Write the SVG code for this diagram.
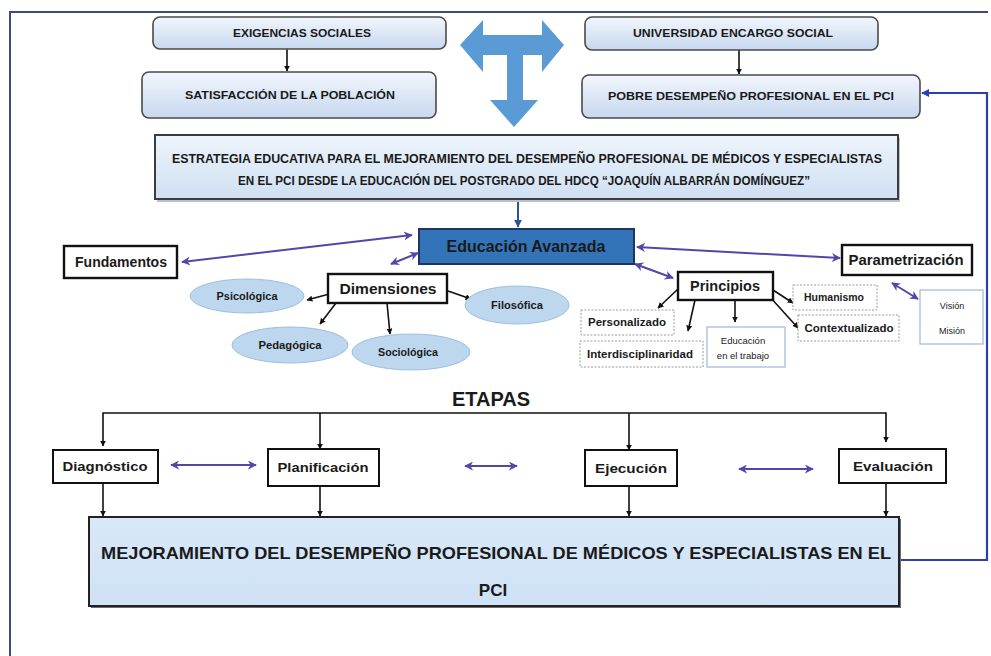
<svg xmlns="http://www.w3.org/2000/svg" width="991" height="656" viewBox="0 0 991 656">
<defs>
<style>
text{font-family:"Liberation Sans",Arial,sans-serif;fill:#1a1a1a}
.b{font-weight:bold}
.top{fill:url(#gTop);stroke:#4a4a4a;stroke-width:1.6}
.blk{fill:#fff;stroke:#111;stroke-width:2.4}
.stg{fill:#fff;stroke:#111;stroke-width:2}
.dot{fill:#fff;stroke:#9a9a9a;stroke-width:1;stroke-dasharray:2 1.5}
.lb{fill:#fff;stroke:#9cb8dc;stroke-width:1.2}
.ell{fill:#bdd7ee;stroke:#9dbfe2;stroke-width:1}
.k{stroke:#111;stroke-width:1.6;fill:none}
.p{stroke:#5047ad;stroke-width:2;fill:none}
</style>
<linearGradient id="gTop" x1="0" y1="0" x2="0" y2="1">
<stop offset="0" stop-color="#f2f6fc"/><stop offset="1" stop-color="#c7d8ef"/>
</linearGradient>
<linearGradient id="gEst" x1="0" y1="0" x2="0" y2="1">
<stop offset="0" stop-color="#eef4fb"/><stop offset="1" stop-color="#cfe0f2"/>
</linearGradient>
<linearGradient id="gBot" x1="0" y1="0" x2="0" y2="1">
<stop offset="0" stop-color="#d7e8f8"/><stop offset="1" stop-color="#cfe2f5"/>
</linearGradient>
<marker id="mk" viewBox="0 0 10 10" refX="9" refY="5" markerWidth="6" markerHeight="6" markerUnits="userSpaceOnUse" orient="auto-start-reverse">
<path d="M0,0 L10,5 L0,10 Z" fill="#111"/>
</marker>
<marker id="mp" viewBox="0 0 10 10" refX="9" refY="5" markerWidth="9" markerHeight="9" markerUnits="userSpaceOnUse" orient="auto-start-reverse">
<path d="M0,0 L10,5 L0,10 L3,5 Z" fill="#5047ad"/>
</marker>
<marker id="mb" viewBox="0 0 10 10" refX="9" refY="5" markerWidth="8" markerHeight="8" markerUnits="userSpaceOnUse" orient="auto-start-reverse">
<path d="M0,0 L10,5 L0,10 Z" fill="#2b3fae"/>
</marker>
<marker id="md" viewBox="0 0 10 10" refX="9" refY="5" markerWidth="8" markerHeight="8" markerUnits="userSpaceOnUse" orient="auto-start-reverse">
<path d="M0,0 L10,5 L0,10 Z" fill="#2f5597"/>
</marker>
</defs>
<rect width="991" height="656" fill="#ffffff"/>
<path d="M10,656 L10,12 L988,12" fill="none" stroke="#3e4a7a" stroke-width="2"/>

<g id="connectors">
<line x1="287" y1="49" x2="287" y2="71" class="k" marker-end="url(#mk)"/>
<line x1="739" y1="50" x2="739" y2="74" class="k" marker-end="url(#mk)"/>
<line x1="518" y1="200" x2="518" y2="227" stroke="#2f5597" stroke-width="2" marker-end="url(#md)"/>
<line x1="182" y1="262" x2="412" y2="235" class="p" marker-start="url(#mp)" marker-end="url(#mp)"/>
<line x1="391" y1="264" x2="418" y2="253" class="p" marker-start="url(#mp)" marker-end="url(#mp)"/>
<line x1="635" y1="264" x2="673" y2="278" class="p" marker-start="url(#mp)" marker-end="url(#mp)"/>
<line x1="637" y1="247" x2="840" y2="258" class="p" marker-start="url(#mp)" marker-end="url(#mp)"/>
<line x1="892" y1="283" x2="918" y2="299" class="p" marker-start="url(#mp)" marker-end="url(#mp)"/>
<line x1="333" y1="293" x2="307" y2="300" class="k" marker-end="url(#mk)"/>
<line x1="336" y1="303" x2="320" y2="324" class="k" marker-end="url(#mk)"/>
<line x1="387" y1="303" x2="390" y2="334" class="k" marker-end="url(#mk)"/>
<line x1="448" y1="291" x2="471" y2="299" class="k" marker-end="url(#mk)"/>
<line x1="678" y1="289" x2="658" y2="308" class="k" marker-end="url(#mk)"/>
<line x1="695" y1="300" x2="688" y2="331" class="k" marker-end="url(#mk)"/>
<line x1="735" y1="300" x2="735" y2="322" class="k" marker-end="url(#mk)"/>
<line x1="773" y1="290" x2="793" y2="303" class="k" marker-end="url(#mk)"/>
<line x1="770" y1="297" x2="798" y2="328" class="k" marker-end="url(#mk)"/>
<path d="M103,446 L103,413 L886,413 L886,442" class="k" marker-end="url(#mk)" marker-start="url(#mk)"/>
<line x1="320" y1="413" x2="320" y2="449" class="k" marker-end="url(#mk)"/>
<line x1="629" y1="413" x2="629" y2="450" class="k" marker-end="url(#mk)"/>
<line x1="171" y1="465" x2="256" y2="465" class="p" marker-start="url(#mp)" marker-end="url(#mp)"/>
<line x1="465" y1="466" x2="517" y2="466" class="p" marker-start="url(#mp)" marker-end="url(#mp)"/>
<line x1="739" y1="469" x2="813" y2="469" class="p" marker-start="url(#mp)" marker-end="url(#mp)"/>
<line x1="103" y1="483" x2="103" y2="516" class="k" marker-end="url(#mk)"/>
<line x1="320" y1="486" x2="320" y2="516" class="k" marker-end="url(#mk)"/>
<line x1="629" y1="486" x2="629" y2="516" class="k" marker-end="url(#mk)"/>
<line x1="886" y1="483" x2="886" y2="516" class="k" marker-end="url(#mk)"/>
<path d="M900,560 L987,560 L987,93 L922,93" fill="none" stroke="#2b3fae" stroke-width="2.2" marker-end="url(#mb)"/>
</g>

<g id="t-arrow">
<path d="M460,45 L483,20 L483,35 L542,35 L542,20 L564,45 L542,72 L542,55 L523,55 L523,100 L538,100 L514,127 L490,100 L507,100 L507,55 L483,55 L483,72 Z" fill="#5b9bd5"/>
</g>

<g id="exigencias">
<rect x="153" y="17" width="293" height="32" rx="7" class="top"/>
<text x="302" y="37" font-size="11" class="b" text-anchor="middle" textLength="138" lengthAdjust="spacingAndGlyphs" fill="#333">EXIGENCIAS SOCIALES</text>
</g>
<g id="satisfaccion">
<rect x="142" y="72" width="294" height="46" rx="7" class="top"/>
<text x="290" y="99" font-size="11" class="b" text-anchor="middle" textLength="210" lengthAdjust="spacingAndGlyphs" fill="#333">SATISFACCIÓN DE LA POBLACIÓN</text>
</g>
<g id="universidad">
<rect x="585" y="17" width="293" height="33" rx="7" class="top"/>
<text x="733" y="37" font-size="11" class="b" text-anchor="middle" textLength="200" lengthAdjust="spacingAndGlyphs" fill="#333">UNIVERSIDAD ENCARGO SOCIAL</text>
</g>
<g id="pobre">
<rect x="582" y="75" width="338" height="43" rx="7" class="top"/>
<text x="751" y="100" font-size="11" class="b" text-anchor="middle" textLength="286" lengthAdjust="spacingAndGlyphs" fill="#333">POBRE DESEMPEÑO PROFESIONAL EN EL PCI</text>
</g>

<g id="estrategia">
<rect x="157" y="138" width="743" height="64" fill="#b9c2cc"/>
<rect x="155" y="135" width="743" height="64" fill="url(#gEst)" stroke="#3c3c3c" stroke-width="2"/>
<text x="527" y="163" font-size="12.5" class="b" text-anchor="middle" textLength="710" lengthAdjust="spacingAndGlyphs" fill="#333">ESTRATEGIA EDUCATIVA PARA EL MEJORAMIENTO DEL DESEMPEÑO PROFESIONAL  DE MÉDICOS Y ESPECIALISTAS</text>
<text x="524" y="185" font-size="12.5" class="b" text-anchor="middle" textLength="572" lengthAdjust="spacingAndGlyphs" fill="#333">EN EL PCI  DESDE LA EDUCACIÓN DEL POSTGRADO DEL HDCQ “JOAQUÍN ALBARRÁN DOMÍNGUEZ”</text>
</g>

<g id="educacion">
<rect x="419" y="229" width="215" height="35" fill="#3373b8" stroke="#1f3560" stroke-width="2"/>
<text x="526" y="252" font-size="16" class="b" text-anchor="middle" fill="#0f1c38">Educación Avanzada</text>
</g>
<g id="fundamentos">
<rect x="64" y="246" width="113" height="32" class="blk"/>
<text x="121" y="267" font-size="14" class="b" text-anchor="middle" textLength="92" lengthAdjust="spacingAndGlyphs">Fundamentos</text>
</g>
<g id="dimensiones">
<rect x="328" y="274" width="119" height="29" class="blk"/>
<text x="388" y="294" font-size="15" class="b" text-anchor="middle" textLength="97" lengthAdjust="spacingAndGlyphs">Dimensiones</text>
</g>
<g id="psicologica">
<ellipse cx="247" cy="296" rx="57" ry="17" class="ell"/>
<text x="247" y="300" font-size="10.5" class="b" text-anchor="middle" textLength="61" lengthAdjust="spacingAndGlyphs">Psicológica</text>
</g>
<g id="pedagogica">
<ellipse cx="290" cy="345" rx="58" ry="18" class="ell"/>
<text x="290" y="349" font-size="10.5" class="b" text-anchor="middle" textLength="63" lengthAdjust="spacingAndGlyphs">Pedagógica</text>
</g>
<g id="sociologica">
<ellipse cx="411" cy="352" rx="59" ry="18" class="ell"/>
<text x="408" y="356" font-size="10.5" class="b" text-anchor="middle" textLength="60" lengthAdjust="spacingAndGlyphs">Sociológica</text>
</g>
<g id="filosofica">
<ellipse cx="517" cy="305" rx="52" ry="19" class="ell"/>
<text x="517" y="309" font-size="10.5" class="b" text-anchor="middle" textLength="52" lengthAdjust="spacingAndGlyphs">Filosófica</text>
</g>
<g id="principios">
<rect x="678" y="272" width="95" height="28" class="blk"/>
<text x="725" y="291" font-size="15" class="b" text-anchor="middle" textLength="70" lengthAdjust="spacingAndGlyphs">Principios</text>
</g>
<g id="parametrizacion">
<rect x="842" y="245" width="130" height="30" class="blk"/>
<text x="906" y="265" font-size="15" class="b" text-anchor="middle" textLength="115" lengthAdjust="spacingAndGlyphs">Parametrización</text>
</g>
<g id="vision-mision">
<rect x="920" y="290" width="63" height="54" class="lb"/>
<text x="952" y="309" font-size="9" text-anchor="middle" fill="#555">Visión</text>
<text x="952" y="334" font-size="9" text-anchor="middle" fill="#555">Misión</text>
</g>
<g id="humanismo">
<rect x="793" y="285" width="84" height="25" class="dot"/>
<text x="834" y="301" font-size="10" class="b" text-anchor="middle" textLength="60" lengthAdjust="spacingAndGlyphs" fill="#222">Humanismo</text>
</g>
<g id="contextualizado">
<rect x="798" y="315" width="101" height="26" class="dot"/>
<text x="849" y="332" font-size="10" class="b" text-anchor="middle" textLength="89" lengthAdjust="spacingAndGlyphs" fill="#222">Contextualizado</text>
</g>
<g id="personalizado">
<rect x="581" y="310" width="93" height="25" class="dot"/>
<text x="627" y="326" font-size="10" class="b" text-anchor="middle" textLength="78" lengthAdjust="spacingAndGlyphs" fill="#222">Personalizado</text>
</g>
<g id="interdisciplinaridad">
<rect x="580" y="341" width="123" height="26" class="dot"/>
<text x="640" y="358" font-size="10" class="b" text-anchor="middle" textLength="106" lengthAdjust="spacingAndGlyphs" fill="#222">Interdisciplinaridad</text>
</g>
<g id="educacion-trabajo">
<rect x="707" y="327" width="78" height="40" class="lb"/>
<text x="743" y="344" font-size="9.5" text-anchor="middle" fill="#444">Educación</text>
<text x="743" y="359" font-size="9.5" text-anchor="middle" fill="#444">en el trabajo</text>
</g>

<g id="etapas">
<text x="491" y="406" font-size="20" class="b" text-anchor="middle" fill="#111">ETAPAS</text>
</g>
<g id="diagnostico">
<rect x="53" y="450" width="105" height="33" class="stg"/>
<text x="105" y="471" font-size="13.5" class="b" text-anchor="middle" textLength="85" lengthAdjust="spacingAndGlyphs">Diagnóstico</text>
</g>
<g id="planificacion">
<rect x="268" y="449" width="111" height="37" class="stg"/>
<text x="323" y="472" font-size="13.5" class="b" text-anchor="middle" textLength="91" lengthAdjust="spacingAndGlyphs">Planificación</text>
</g>
<g id="ejecucion">
<rect x="585" y="450" width="92" height="36" class="stg"/>
<text x="631" y="473" font-size="13.5" class="b" text-anchor="middle" textLength="72" lengthAdjust="spacingAndGlyphs">Ejecución</text>
</g>
<g id="evaluacion">
<rect x="839" y="449" width="107" height="34" class="stg"/>
<text x="893" y="471" font-size="13.5" class="b" text-anchor="middle" textLength="80" lengthAdjust="spacingAndGlyphs">Evaluación</text>
</g>

<g id="mejoramiento">
<rect x="91" y="519" width="810" height="89" fill="#6d6d6d"/>
<rect x="89" y="517" width="810" height="89" fill="url(#gBot)" stroke="#222" stroke-width="2"/>
<text x="496" y="559" font-size="17" class="b" text-anchor="middle" textLength="790" lengthAdjust="spacingAndGlyphs" fill="#1a1a1a">MEJORAMIENTO  DEL DESEMPEÑO PROFESIONAL DE MÉDICOS Y ESPECIALISTAS EN EL</text>
<text x="493" y="596" font-size="17" class="b" text-anchor="middle" fill="#1a1a1a">PCI</text>
</g>
</svg>
